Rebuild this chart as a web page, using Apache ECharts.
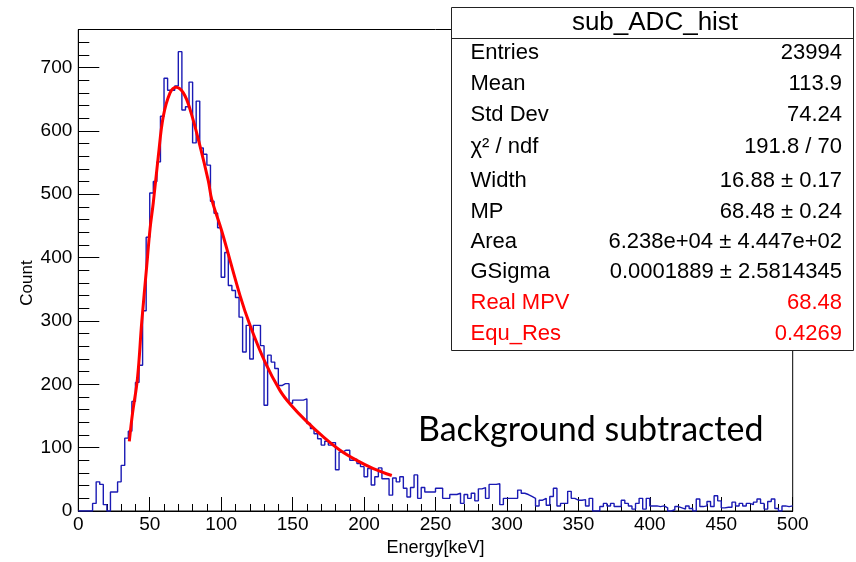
<!DOCTYPE html>
<html>
<head>
<meta charset="utf-8">
<script src="https://cdn.jsdelivr.net/npm/echarts@6/dist/echarts.min.js"></script>
<style>
html,body{margin:0;padding:0;background:#fff;}
#chart{width:856px;height:562px;}
</style>
</head>
<body>
<div id="chart"></div>
<script>
// ---- data ----
const binWidth = 2.5;           // keV per bin, 200 bins from 0 to 500
const counts = [
  0, 0, 0, 0, 12, 46, 42, 10, 0, 30,
  30, 46, 72, 115, 126, 173, 203, 230, 316, 432,
  502, 520, 551, 623, 683, 664, 664, 671, 725, 633,
  638, 677, 581, 647, 573, 563, 546, 489, 470, 447,
  369, 408, 356, 348, 337, 306, 251, 293, 240, 293,
  293, 261, 167, 246, 235, 225, 198, 201, 201, 170,
  175, 175, 175, 177, 138, 130, 122, 114, 104, 110,
  104, 108, 65, 93, 96, 96, 80, 82, 75, 70,
  54, 67, 41, 54, 68, 51, 51, 25, 52, 46,
  54, 36, 22, 37, 57, 20, 37, 30, 30, 30,
  36, 36, 20, 20, 26, 26, 28, 12, 26, 20,
  28, 16, 35, 37, 20, 42, 42, 43, 10, 20,
  20, 20, 20, 33, 28, 26, 23, 20, 8, 17,
  20, 9, 23, 36, 8, 12, 12, 31, 20, 17,
  17, 18, 8, 20, 0, 0, 7, 12, 8, 12,
  7, 7, 17, 12, 8, 3, 12, 20, 3, 20,
  8, 8, 7, 8, 5, 0, 2, 7, 5, 3,
  8, 4, 0, 19, 7, 8, 15, 7, 24, 16,
  5, 6, 6, 14, 8, 12, 8, 12, 10, 14,
  19, 12, 3, 15, 19, 4, 0, 8, 7, 8
];
// red fit curve [keV, count]
const fitEnergy = [35.7, 38, 41.4, 44.4, 47.9, 50.2, 52.5, 56, 59.5, 64.2, 68.4, 73.5, 78.2, 85.2, 91, 93.4, 100.4, 113.2, 120.2, 130.7, 141.2, 148.2, 159.9, 171.5, 183.2, 194.9, 206.5, 219.4];
const fitCount  = [110, 155, 209, 298, 387, 445, 487, 560, 623, 660, 669, 660, 634, 576, 521, 492, 442, 340, 293, 235, 190, 169, 141, 117, 96, 80, 67, 56];

const xTicks = {min: 0, max: 500, step: 50};
const yTicks = {min: 0, max: 760, step: 100};

const statsTitle = 'sub_ADC_hist';
const statsLabels = ['Entries', 'Mean', 'Std Dev', 'χ² / ndf', 'Width', 'MP', 'Area', 'GSigma', 'Real MPV', 'Equ_Res'];
const statsValues = ['23994', '113.9', '74.24', '191.8 / 70', '16.88 ± 0.17', '68.48 ± 0.24', '6.238e+04 ± 4.447e+02', '0.0001889 ± 2.5814345', '68.48', '0.4269'];
const statsRed = [false, false, false, false, false, false, false, false, true, true];
const annotation = 'Background subtracted';

// ---- build series data ----
const histData = counts.map((c, i) => [i * binWidth, c]);
histData.push([counts.length * binWidth, counts[counts.length - 1]]);
const fitData = fitEnergy.map((e, i) => [e, fitCount[i]]);

// ---- layout ----
const W = 856, H = 562;
const gL = 78.3, gT = 29.5, gR = 792.7, gB = 512.7;
const FONT = '"Liberation Sans", Arial, Helvetica, sans-serif';

const rowY = [52, 83, 114, 145.5, 180, 210.5, 241, 271, 302, 333];
const statsGraphics = [];
statsGraphics.push({type:'rect', shape:{x:451.5, y:7.5, width:402, height:343}, style:{fill:'#fff', stroke:'#222', lineWidth:1}, z:100});
statsGraphics.push({type:'line', shape:{x1:451.5, y1:38.5, x2:853.5, y2:38.5}, style:{stroke:'#222', lineWidth:1}, z:101});
statsGraphics.push({type:'text', x:655, y:23, style:{text:statsTitle, font:'26px ' + FONT, fill:'#000', textAlign:'center', textVerticalAlign:'middle'}, z:102});
statsLabels.forEach((lab, i) => {
  const col = statsRed[i] ? '#ff0000' : '#000';
  statsGraphics.push({type:'text', x:470.5, y:rowY[i] + 1, style:{text:lab, font:'22px ' + FONT, fill:col, textAlign:'left', textVerticalAlign:'middle'}, z:102});
  statsGraphics.push({type:'text', x:842, y:rowY[i] + 1, style:{text:statsValues[i], font:'22px ' + FONT, fill:col, textAlign:'right', textVerticalAlign:'middle'}, z:102});
});
statsGraphics.push({type:'text', x:418, y:430, style:{text:annotation, font:'34px Lato, "Open Sans", sans-serif', fill:'#000', textAlign:'left', textVerticalAlign:'middle'}, z:50});
statsGraphics.push({type:'text', x:27, y:283, rotation:Math.PI/2, style:{text:'Count', font:'17px ' + FONT, fill:'#000', textAlign:'center', textVerticalAlign:'middle'}, z:50});

const chart = echarts.init(document.getElementById('chart'), null, {renderer:'canvas', width:W, height:H});
chart.setOption({
  animation: false,
  backgroundColor: '#fff',
  grid: {left: gL, top: gT, right: W - gR, bottom: H - gB, show: true, borderColor: '#000', borderWidth: 1, backgroundColor: 'transparent'},
  xAxis: {
    type: 'value', min: xTicks.min, max: xTicks.max, interval: xTicks.step,
    name: 'Energy[keV]', nameLocation: 'middle', nameGap: 28,
    nameTextStyle: {fontFamily: FONT, fontSize: 18, color: '#000'},
    axisLine: {show: true, lineStyle: {color: '#000', width: 1}},
    axisTick: {show: true, inside: true, length: 14, lineStyle: {color: '#000', width: 1}},
    minorTick: {show: true, splitNumber: 5, length: 7, lineStyle: {color: '#000', width: 1}},
    axisLabel: {fontFamily: FONT, fontSize: 19, color: '#000', margin: 4},
    splitLine: {show: false}
  },
  yAxis: {
    type: 'value', min: yTicks.min, max: yTicks.max, interval: yTicks.step,
    axisLine: {show: true, lineStyle: {color: '#000', width: 1}},
    axisTick: {show: true, inside: true, length: 21, lineStyle: {color: '#000', width: 1}},
    minorTick: {show: true, splitNumber: 5, length: 11, lineStyle: {color: '#000', width: 1}},
    axisLabel: {fontFamily: FONT, fontSize: 19, color: '#000', margin: 6, showMaxLabel: false},
    splitLine: {show: false}
  },
  series: [
    {type: 'line', data: histData, step: 'end', symbol: 'none', lineStyle: {color: '#1a1ab4', width: 1.4}, z: 3},
    {type: 'line', data: fitData, smooth: 0.4, symbol: 'none', lineStyle: {color: '#ff0000', width: 3}, z: 4}
  ],
  graphic: statsGraphics
});
</script>
</body>
</html>
